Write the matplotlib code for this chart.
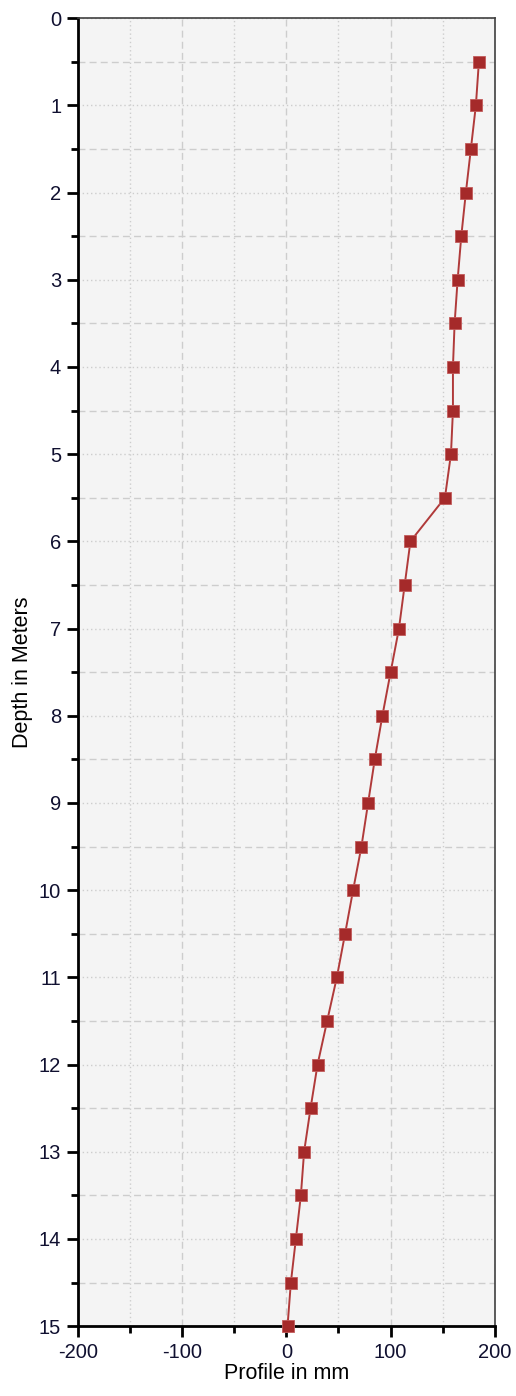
import numpy as np
import matplotlib.pyplot as plt
from matplotlib.ticker import MultipleLocator

depth = [0.5, 1.0, 1.5, 2.0, 2.5, 3.0, 3.5, 4.0, 4.5, 5.0,
         5.5, 6.0, 6.5, 7.0, 7.5, 8.0, 8.5, 9.0, 9.5, 10.0,
         10.5, 11.0, 11.5, 12.0, 12.5, 13.0, 13.5, 14.0, 14.5, 15.0]
profile = [184.7, 181.8, 177.0, 172.2, 167.8, 164.3, 161.4, 159.8, 159.8, 157.9,
           152.1, 119.0, 113.5, 108.0, 100.0, 92.1, 84.8, 78.4, 72.0, 64.0,
           56.3, 48.4, 39.1, 29.9, 23.2, 17.0, 13.9, 9.1, 4.3, 1.1]

plt.rcParams['font.family'] = ['Liberation Sans', 'DejaVu Sans']
plt.rcParams['axes.unicode_minus'] = False

fig = plt.figure(figsize=(5.16, 13.96), dpi=100)
ax = fig.add_axes([0.151, 0.050, 0.808, 0.937])
ax.set_facecolor('#f4f4f4')

ax.plot(profile, depth, '-', color='#b03a3a', lw=1.4, zorder=3)
ax.plot(profile, depth, 's', color='#a52a2a', mec='#c25b5b', mew=0.6,
        markersize=8.3, zorder=4, clip_on=False)

ax.set_xlim(-200, 200)
ax.set_ylim(15, 0)
ax.xaxis.set_major_locator(MultipleLocator(100))
ax.xaxis.set_minor_locator(MultipleLocator(50))
ax.yaxis.set_major_locator(MultipleLocator(1))
ax.yaxis.set_minor_locator(MultipleLocator(0.5))

ax.grid(True, axis='x', which='major', color='#cdcdcd', ls=(0, (5, 3)), lw=1)
ax.grid(True, axis='x', which='minor', color='#cdcdcd', ls=(0, (1, 2)), lw=1)
ax.grid(True, axis='y', which='major', color='#cdcdcd', ls=(0, (1, 2)), lw=1)
ax.grid(True, axis='y', which='minor', color='#cdcdcd', ls=(0, (5, 3)), lw=1)
ax.set_axisbelow(True)

for s in ['left', 'bottom']:
    ax.spines[s].set_linewidth(2)
    ax.spines[s].set_color('black')
for s in ['top', 'right']:
    ax.spines[s].set_linewidth(1.2)
    ax.spines[s].set_color('#404040')

ax.tick_params(which='major', length=8, width=2, labelsize=14.5, colors='black',
               labelcolor='#101030', pad=4)
ax.tick_params(which='minor', length=5, width=2)

ax.set_xlabel('Profile in mm', fontsize=15.5, labelpad=1)
ax.set_ylabel('Depth in Meters', fontsize=15.5, labelpad=4)

fig.savefig('out.png', dpi=100)
